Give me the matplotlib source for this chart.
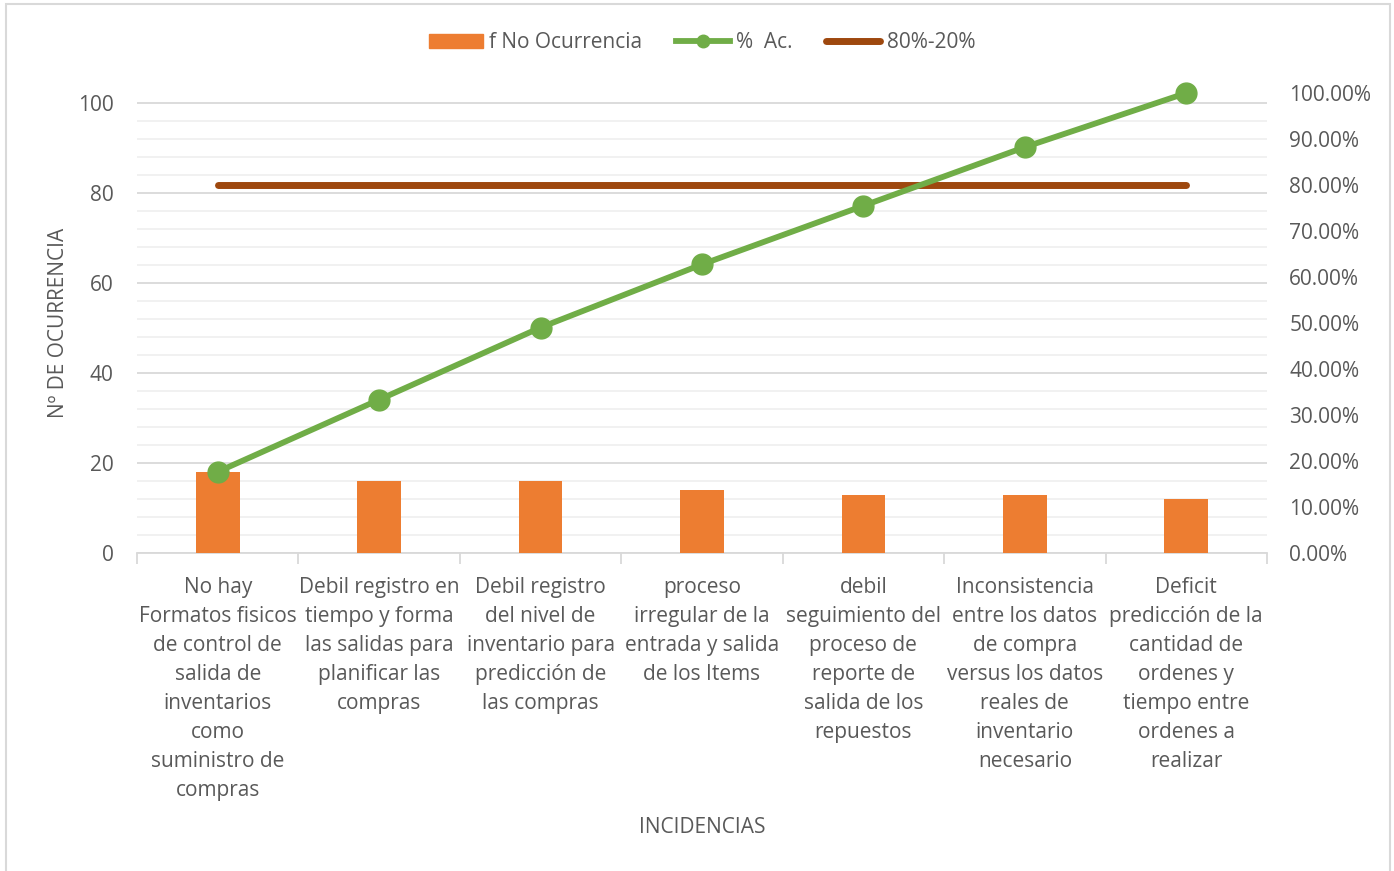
"""Pareto chart of inventory incidents"""
import matplotlib
matplotlib.use('Agg')
import matplotlib.pyplot as plt
from matplotlib.patches import Rectangle
from matplotlib.lines import Line2D
from matplotlib.ticker import FuncFormatter, MultipleLocator, FixedLocator
import numpy as np

plt.rcParams['font.family'] = ['Open Sans', 'DejaVu Sans']

categories = [
    'No hay\nFormatos fisicos\nde control de\nsalida de\ninventarios\ncomo\nsuministro de\ncompras',
    'Debil registro en\ntiempo y forma\nlas salidas para\nplanificar las\ncompras',
    'Debil registro\ndel nivel de\ninventario para\npredicción de\nlas compras',
    'proceso\nirregular de la\nentrada y salida\nde los Items',
    'debil\nseguimiento del\nproceso de\nreporte de\nsalida de los\nrepuestos',
    'Inconsistencia\nentre los datos\nde compra\nversus los datos\nreales de\ninventario\nnecesario',
    'Deficit\npredicción de la\ncantidad de\nordenes y\ntiempo entre\nordenes a\nrealizar',
]
freq = [18, 16, 16, 14, 13, 13, 12]
limit_80 = [0.80] * len(freq)

cum_pct = np.cumsum(freq) / float(sum(freq))

TXT = '#595959'
ORANGE = '#ED7D31'
GREEN = '#70AD47'
BROWN = '#9E480E'
FS = 15

fig = plt.figure(figsize=(13.94, 8.71), dpi=100)
ax = fig.add_axes([137/1394., 1 - 553/871., (1267 - 137)/1394., (553 - 93)/871.])
ax2 = ax.twinx()

x = np.arange(len(freq))
ax.bar(x, freq, width=0.27, color=ORANGE, zorder=3)
ax2.plot(x, cum_pct, color=GREEN, lw=4.2, marker='o', ms=15, zorder=4,
         solid_capstyle='round', clip_on=False)
ax2.plot(x, limit_80, color=BROWN, lw=5, solid_capstyle='round', zorder=3)

# left axis
ax.set_xlim(-0.5, len(freq) - 0.5)
ax.set_ylim(0, 100 * 460 / 450.)
ax.yaxis.set_major_locator(FixedLocator([0, 20, 40, 60, 80, 100]))
ax.yaxis.set_minor_locator(FixedLocator([v for v in range(4, 101, 4) if v % 20]))
ax.grid(axis='y', which='major', color='#D9D9D9', lw=1.3, zorder=0)
ax.grid(axis='y', which='minor', color='#F0F0F0', lw=1.3, zorder=0)
ax.set_axisbelow(True)
ax.tick_params(axis='y', which='both', length=0, pad=17, labelsize=FS, labelcolor=TXT)

ax.set_xticks(x)
ax.set_xticklabels(categories, fontsize=FS, color=TXT, linespacing=1.5)
ax.xaxis.set_minor_locator(FixedLocator(np.arange(-0.5, len(freq), 1.0)))
ax.tick_params(axis='x', which='major', length=0, pad=17)
ax.tick_params(axis='x', which='minor', length=8, color='#D9D9D9', width=1.3)

for s in ['top', 'left', 'right']:
    ax.spines[s].set_visible(False)
    ax2.spines[s].set_visible(False)
ax.spines['bottom'].set_color('#D9D9D9')
ax.spines['bottom'].set_linewidth(1.3)
ax2.spines['bottom'].set_visible(False)

# right axis
ax2.set_ylim(0, 1.0)
ax2.yaxis.set_major_locator(MultipleLocator(0.1))
ax2.yaxis.set_major_formatter(FuncFormatter(lambda v, p: '{:.2%}'.format(v)))
ax2.tick_params(axis='y', length=0, pad=16, labelsize=FS, labelcolor=TXT)

ax.set_ylabel('Nº DE OCURRENCIA', fontsize=FS, color=TXT)
ax.yaxis.set_label_coords(-0.06, 0.5)
fig.text(702/1394., 1 - 827/871., 'INCIDENCIAS', fontsize=FS, color=TXT,
         ha='center', va='center')

handles = [
    Rectangle((0, 0), 1, 1, color=ORANGE),
    Line2D([], [], color=GREEN, lw=4.2, marker='o', ms=9),
    Line2D([], [], color=BROWN, lw=5, solid_capstyle='round'),
]
fig.legend(handles, ['f No Ocurrencia', '%  Ac.', '80%-20%'], loc='center',
           bbox_to_anchor=(702/1394., 1 - 43/871.), ncol=3, frameon=False,
           fontsize=FS, labelcolor=TXT, handlelength=2.6, handletextpad=0.3,
           columnspacing=1.6)

# chart area border
fig.patches.append(Rectangle((6/1394., -0.01), (1390 - 6)/1394., 1.01 - 4/871.,
                             transform=fig.transFigure, fill=False,
                             edgecolor='#D9D9D9', lw=1.5))

plt.savefig('out.png', dpi=100)
